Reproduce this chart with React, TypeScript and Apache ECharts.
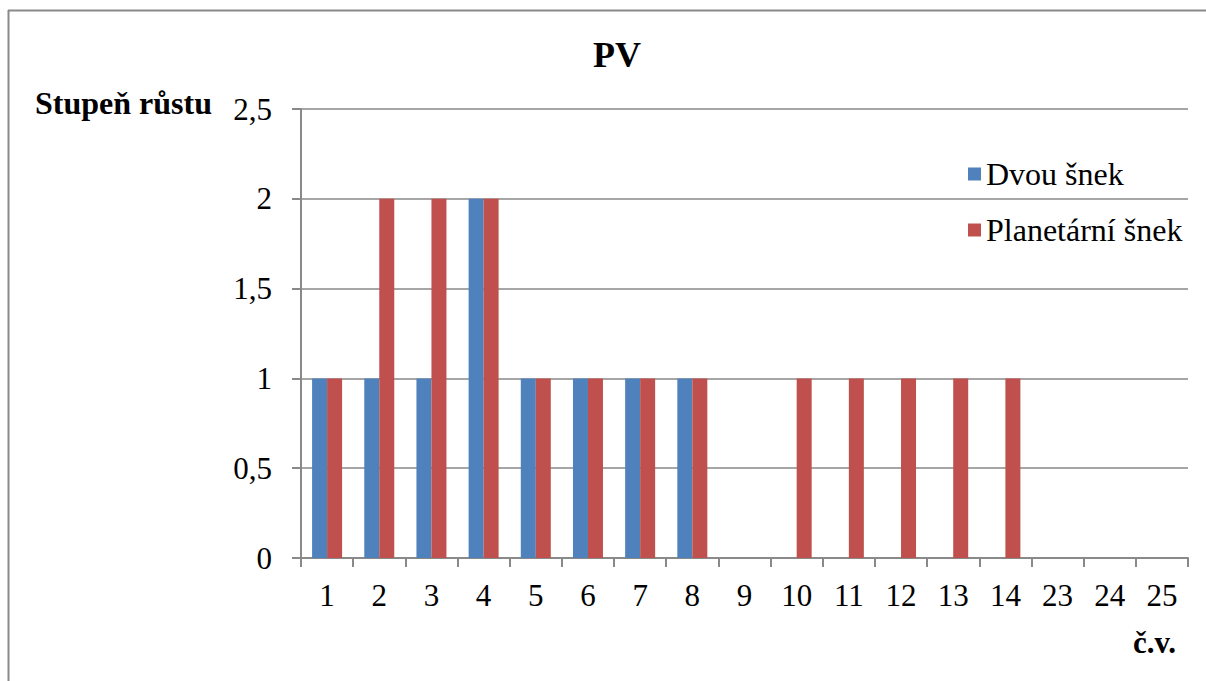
import React, { useEffect, useRef } from "react";
import * as echarts from "echarts";

const categories = ["1", "2", "3", "4", "5", "6", "7", "8", "9", "10", "11", "12", "13", "14", "23", "24", "25"];
const dvouSnek = [1, 1, 1, 2, 1, 1, 1, 1, 0, 0, 0, 0, 0, 0, 0, 0, 0];
const planetarniSnek = [1, 2, 2, 2, 1, 1, 1, 1, 0, 1, 1, 1, 1, 1, 0, 0, 0];
const seriesNames = ["Dvou šnek", "Planetární šnek"];

const FONT = "Liberation Serif";
const GRAY = "#898989";

export default function App() {
  const ref = useRef<HTMLDivElement>(null);
  useEffect(() => {
    document.body.style.margin = "0";
    const chart = echarts.init(ref.current!, null, { renderer: "svg" });
    chart.setOption({
      animation: false,
      backgroundColor: "#fff",
      textStyle: { fontFamily: FONT },
      title: {
        text: "PV",
        left: 612,
        top: 32,
        textAlign: "center",
        textStyle: { fontFamily: FONT, fontSize: 36, fontWeight: "bold", color: "#000" },
      },
      legend: {
        orient: "vertical",
        left: 963,
        top: 153,
        itemWidth: 13,
        itemHeight: 13,
        itemGap: 24,
        icon: "rect",
        textStyle: { fontFamily: FONT, fontSize: 32, color: "#000" },
        data: seriesNames,
      },
      grid: { left: 301, right: 18, top: 109, bottom: 123, containLabel: false },
      xAxis: {
        type: "category",
        data: categories,
        axisLine: { show: true, lineStyle: { color: GRAY, width: 2 } },
        axisTick: { show: true, interval: 0, length: 9, lineStyle: { color: GRAY, width: 2 } },
        axisLabel: { fontFamily: FONT, fontSize: 31, color: "#000", margin: 22, interval: 0 },
        splitLine: { show: false },
      },
      yAxis: {
        type: "value",
        min: 0,
        max: 2.5,
        interval: 0.5,
        axisLine: { show: true, lineStyle: { color: GRAY, width: 2 } },
        axisTick: { show: true, length: 9, lineStyle: { color: GRAY, width: 2 } },
        axisLabel: {
          fontFamily: FONT,
          fontSize: 31,
          color: "#000",
          margin: 29,
          formatter: (v: number) => String(v).replace(".", ","),
        },
        splitLine: { show: true, lineStyle: { color: GRAY, width: 1.5 } },
      },
      series: [
        {
          name: seriesNames[0],
          type: "bar",
          data: dvouSnek,
          barWidth: 15,
          barGap: "0%",
          itemStyle: { color: "#4F81BD" },
        },
        {
          name: seriesNames[1],
          type: "bar",
          data: planetarniSnek,
          barWidth: 15,
          barGap: "0%",
          itemStyle: { color: "#C0504D" },
        },
      ],
      graphic: [
        { type: "line", shape: { x1: 8, y1: 10.5, x2: 1206, y2: 10.5 }, style: { stroke: GRAY, lineWidth: 2 } },
        { type: "line", shape: { x1: 8.5, y1: 10, x2: 8.5, y2: 681 }, style: { stroke: GRAY, lineWidth: 2 } },
        {
          type: "text",
          left: 35,
          top: 87,
          style: { text: "Stupeň růstu", font: `bold 32px ${FONT}`, fill: "#000" },
        },
        {
          type: "text",
          left: 1133,
          top: 627,
          style: { text: "č.v.", font: `bold 31px ${FONT}`, fill: "#000" },
        },
      ],
    });
    return () => chart.dispose();
  }, []);
  return <div ref={ref} style={{ width: 1206, height: 681 }} />;
}
